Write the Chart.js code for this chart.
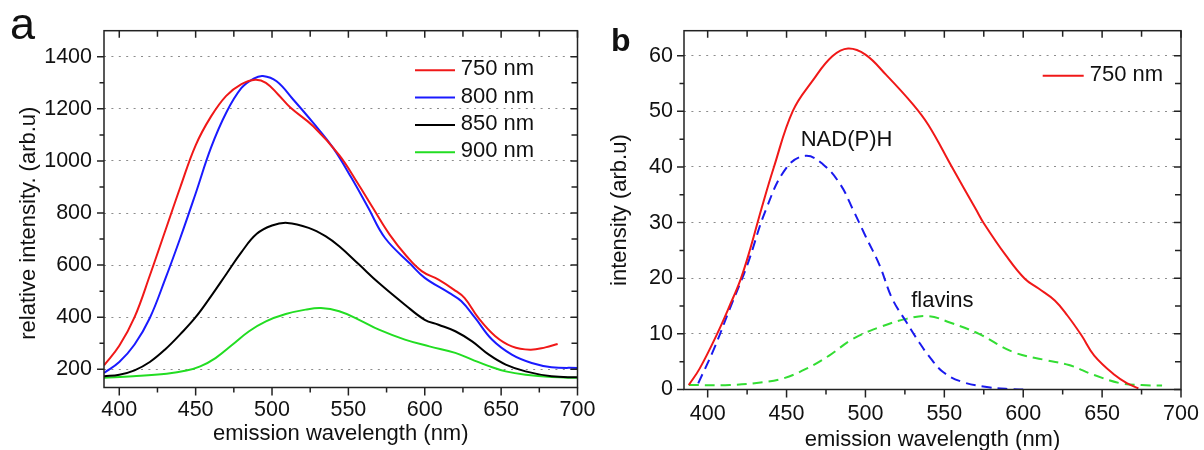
<!DOCTYPE html>
<html><head><meta charset="utf-8">
<script src="https://cdn.jsdelivr.net/npm/chart.js@4.4.1/dist/chart.umd.min.js"></script>
<style>
html,body{margin:0;padding:0;background:#fff;}
#wrap{position:relative;width:1204px;height:450px;overflow:hidden;font-family:"Liberation Sans",Arial,sans-serif;}
.pl{position:absolute;line-height:1;color:#111;white-space:nowrap;}
</style></head><body>
<div id="wrap">
 <canvas id="ca" width="600" height="450" style="position:absolute;left:0;top:0"></canvas>
 <canvas id="cb" width="604" height="450" style="position:absolute;left:600px;top:0"></canvas>
 <div class="pl" style="left:10px;top:1px;font-size:45px">a</div>
 <div class="pl" style="left:611px;top:24px;font-size:32px;font-weight:bold">b</div>
</div>
<script>
// ---------- DATA (panel a: relative intensity vs emission wavelength) ----------
const wlA750  = [390,400,410,420,430,440,450,460,470,480,489,496,504,512,527,544,556,566,577,588,598,609,619,626,635,646,657,669,679,687];
const intA750 = [215,290,400,560,730,900,1060,1170,1250,1295,1312,1300,1255,1205,1133,1022,915,820,717,635,577,544,506,474,398,328,288,275,284,297];

const wlA800  = [390,400,410,420,430,440,450,460,470,480,488,494,503,514,527,540,552,563,574,591,600,616,624,633,644,657,670,683,700];
const intA800 = [186,228,295,397,545,705,875,1050,1185,1280,1316,1326,1306,1235,1146,1050,935,820,704,602,551,493,461,397,314,256,224,208,205];

const wlA850  = [390,400,410,420,430,440,450,460,470,480,490,500,510,524,535,544,557,570,587,600,609,620,631,642,653,666,683,700];
const intA850 = [173,179,196,228,276,335,400,480,565,650,720,752,762,743,711,672,602,531,448,390,371,346,307,256,218,192,173,169];

const wlA900  = [390,409,431,444,453,463,474,485,496,509,522,532,544,557,570,587,603,620,631,642,653,666,683,700];
const intA900 = [167,173,183,195,211,243,294,346,384,412,429,435,423,390,352,314,288,263,237,212,192,179,170,167];

// ---------- DATA (panel b: intensity vs emission wavelength) ----------
const wlB750  = [388,395,406,414,421,427,434,442,454,467,479,489,500,513,530,540,555,570,575,589,601,610,620,628,637,645,658,666,673];
const intB750 = [0.8,3.8,10.0,15.1,19.9,25.3,32.4,40.0,50.1,55.7,59.9,61.3,60.2,56.6,51.3,47.5,39.9,32.4,29.9,24.1,19.9,18.1,16.0,13.3,9.7,6.1,2.6,1.1,0.2];

const wlNADH  = [394,404,414,425,437,450,462,473,484,492,500,509,517,526,534,540,549,561,578,593,600];
const intNADH = [1.1,7.3,14.5,22.3,32.4,39.9,42.0,40.5,36.9,32.4,27.6,22.3,16.3,12.1,8.5,6.1,3.2,1.4,0.4,0.05,0];

const wlFlav  = [388,414,435,448,463,477,492,509,526,540,553,572,593,614,629,645,662,675,688];
const intFlav = [0.8,0.8,1.3,2.0,3.8,6.1,9.1,11.2,12.7,13.2,12.1,10.0,6.8,5.3,4.4,2.6,1.1,0.8,0.7];

// ---------- tick labels / axis text ----------
const xTicks  = [400,450,500,550,600,650,700];
const yTicksA = [200,400,600,800,1000,1200,1400];
const yTicksB = [0,10,20,30,40,50,60];
const xTitle  = 'emission wavelength (nm)';
const yTitleA = 'relative intensity. (arb.u)';
const yTitleB = 'intensity (arb.u)';
const legendA = ['750 nm','800 nm','850 nm','900 nm'];
const legendB = ['750 nm'];
const notesB  = ['NAD(P)H','flavins'];

// ---------- rendering ----------
const FONT = '"Liberation Sans", Arial, sans-serif';
Chart.defaults.font.family = FONT;
Chart.defaults.color = '#111';
Chart.defaults.animation = false;

function pts(xs, ys){ return xs.map((x,i)=>({x:x, y:ys[i]})); }
function isMult(v, base, step){ const r=(v-base)/step; return Math.abs(r-Math.round(r))<1e-6; }

const framePlugin = {
  id:'frame',
  afterDatasetsDraw(chart, args, o){
    const {ctx, chartArea:a, scales:{x, y}} = chart;
    ctx.save();
    ctx.strokeStyle = '#222'; ctx.lineWidth = 1.5; ctx.setLineDash([]);
    ctx.beginPath();
    const seg=(x1,y1,x2,y2)=>{ctx.moveTo(x1,y1);ctx.lineTo(x2,y2);};
    for(let v=o.xFirst; v<=x.max+1e-9; v+=o.xMinor){
      if(v<x.min-1e-9) continue;
      const p=x.getPixelForValue(v), maj=isMult(v,o.xFirst,o.xMajor);
      seg(p,a.bottom,p,a.bottom+(maj?8:5));
      seg(p,a.top,p,a.top+(maj?7:6));
    }
    for(let v=o.yFirst; v<y.max-1e-9; v+=o.yMinor){
      if(v<y.min-1e-9) continue;
      const p=y.getPixelForValue(v), maj=isMult(v,o.yFirst,o.yMajor);
      seg(a.left,p,a.left-(maj?7:4.5),p);
      seg(a.right,p,a.right-(maj?7:6),p);
    }
    ctx.stroke();
    ctx.strokeRect(a.left,a.top,a.right-a.left,a.bottom-a.top);
    ctx.restore();
  }
};

const legendPlugin = {
  id:'ilegend',
  afterDraw(chart, args, o){
    const {ctx, chartArea:a} = chart;
    ctx.save();
    ctx.font = '22px '+FONT; ctx.textBaseline='middle'; ctx.textAlign='left';
    let row=0;
    chart.data.datasets.forEach(ds=>{
      if(!o.labels.includes(ds.label)) return;
      const yy=a.top+o.dy+row*o.step, x0=a.right-o.dx;
      ctx.strokeStyle=ds.borderColor; ctx.lineWidth=2; ctx.setLineDash([]);
      ctx.beginPath(); ctx.moveTo(x0,yy); ctx.lineTo(x0+o.len,yy); ctx.stroke();
      ctx.fillStyle='#111'; ctx.fillText(ds.label, x0+o.len+o.gap, yy-1);
      row++;
    });
    ctx.restore();
  }
};

const notePlugin = {
  id:'notes',
  afterDatasetsDraw(chart, args, o){
    const {ctx, scales:{x,y}} = chart;
    ctx.save();
    ctx.font='22px '+FONT; ctx.fillStyle='#111'; ctx.textBaseline='alphabetic';
    (o.items||[]).forEach(it=>{
      ctx.textAlign=it.align;
      ctx.fillText(it.text, x.getPixelForValue(it.x), y.getPixelForValue(it.y));
    });
    ctx.restore();
  }
};

function line(label, xs, ys, color, dash){
  return {label:label, data:pts(xs,ys), borderColor:color, backgroundColor:color,
    borderWidth:2, pointRadius:0, fill:false, tension:0.4,
    borderDash:dash||[]};
}

function axes(o){
  return {
    x:{type:'linear', min:o.xmin, max:o.xmax,
       afterBuildTicks:s=>{s.ticks=xTicks.map(v=>({value:v}));},
       afterFit:s=>{s.height=o.xh; s.paddingLeft=0; s.paddingRight=0;},
       grid:{display:false, drawTicks:false}, border:{display:false},
       ticks:{padding:o.xpad, font:{size:21.5}, color:'#111', maxRotation:0, autoSkip:false, callback:v=>String(v)},
       title:{display:true, text:xTitle, font:{size:22}, color:'#111', padding:{top:0,bottom:o.xtb}}},
    y:{type:'linear', min:o.ymin, max:o.ymax,
       afterBuildTicks:s=>{s.ticks=o.yticks.map(v=>({value:v}));},
       afterFit:s=>{s.width=o.yw; s.paddingTop=0; s.paddingBottom=0;},
       grid:{color:'#8c8c8c', lineWidth:1, drawTicks:false}, border:{display:false, dash:[2,5.4]},
       ticks:{padding:o.ypad, font:{size:21.5}, color:'#111', autoSkip:false, callback:v=>String(v)},
       title:{display:true, text:o.ytitle, font:{size:22}, color:'#111', padding:{top:o.ytp,bottom:0}}}
  };
}

new Chart(document.getElementById('ca'), {
  type:'line',
  data:{datasets:[
    line(legendA[0], wlA750, intA750, '#f01818'),
    line(legendA[1], wlA800, intA800, '#1a1aff'),
    line(legendA[2], wlA850, intA850, '#000000'),
    line(legendA[3], wlA900, intA900, '#22dd22')
  ]},
  options:{responsive:false, animation:false,
    layout:{padding:{left:0, right:22.5, top:30.7, bottom:0}},
    scales:axes({xmin:390,xmax:700,xh:62.5,xpad:10,xtb:3,ymin:130,ymax:1500,yw:104,yticks:yTicksA,ypad:12,
                 ytitle:yTitleA+' \u2002\u2002', ytp:16}),
    plugins:{legend:{display:false}, tooltip:{enabled:false},
      frame:{xFirst:400,xMinor:25,xMajor:50,yFirst:200,yMinor:100,yMajor:200},
      ilegend:{labels:legendA, dx:162.5, dy:39.6, step:27.3, len:40, gap:5.7},
      notes:{items:[]}}
  },
  plugins:[framePlugin, legendPlugin, notePlugin]
});

new Chart(document.getElementById('cb'), {
  type:'line',
  data:{datasets:[
    line(legendB[0], wlB750, intB750, '#f01818'),
    line(notesB[0], wlNADH, intNADH, '#1a1aee', [10,6]),
    line(notesB[1], wlFlav, intFlav, '#33dd33', [10,6])
  ]},
  options:{responsive:false, animation:false,
    layout:{padding:{left:0, right:23, top:30.7, bottom:0}},
    scales:axes({xmin:385,xmax:700,xh:60.5,xpad:12,xtb:-3,ymin:0,ymax:64.5,yw:84,yticks:yTicksB,ypad:11,
                 ytitle:yTitleB, ytp:6.5}),
    plugins:{legend:{display:false}, tooltip:{enabled:false},
      frame:{xFirst:400,xMinor:25,xMajor:50,yFirst:0,yMinor:5,yMajor:10},
      ilegend:{labels:legendB, dx:138.3, dy:45, step:27.3, len:41, gap:6},
      notes:{items:[{text:notesB[0], x:488, y:43.8, align:'center'},{text:notesB[1], x:529, y:14.9, align:'left'}]}}
  },
  plugins:[framePlugin, legendPlugin, notePlugin]
});
</script>
</body></html>
